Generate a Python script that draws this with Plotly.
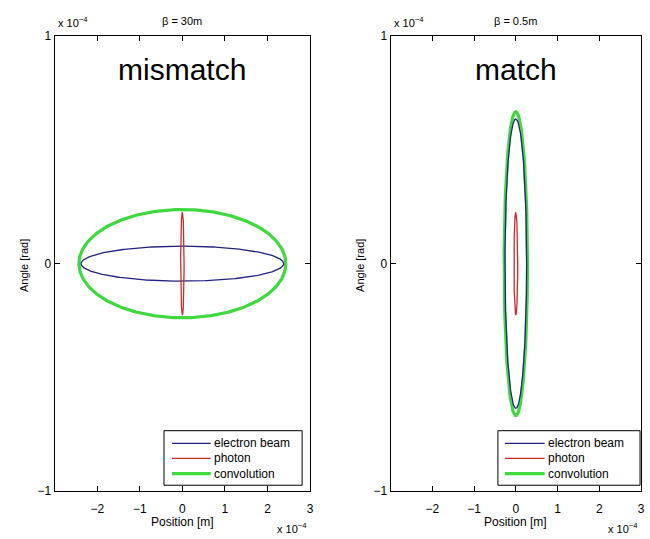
import numpy as np
import plotly.graph_objects as go

# Phase-space ellipse semi-axes (position [m], angle [rad]) for each beta setting
panel_titles = ["mismatch", "match"]
beta_labels = ["β = 30m", "β = 0.5m"]
electron_pos = [2.38e-4, 0.26e-4]
electron_ang = [0.077e-4, 0.636e-4]
photon_pos = [0.04e-4, 0.045e-4]
photon_ang = [0.226e-4, 0.225e-4]
conv_pos = [2.43e-4, 0.28e-4]
conv_ang = [0.238e-4, 0.668e-4]

x_ticks = [-2e-4, -1e-4, 0, 1e-4, 2e-4, 3e-4]
x_tick_text = ["\u22122", "\u22121", "0", "1", "2", "3"]
y_ticks = [-1e-4, 0, 1e-4]
y_tick_text = ["\u22121", "0", "1"]

FONT = "Liberation Sans, Arial, sans-serif"
W, H = 650, 539
domains_x = [(55 / W, 312 / W), (393 / W, 645 / W)]
domain_y = (1 - 497 / H, 1 - 30 / H)

t = np.linspace(0, 2 * np.pi, 361)


def ellipse(a, b):
    return a * np.cos(t), b * np.sin(t)


def px(xp):
    return xp / W


def py(yp):
    return 1 - yp / H


fig = go.Figure()

styles = [
    ("electron beam", "#23237e", 1.3),
    ("photon", "#cc2a2a", 1.3),
    ("convolution", "#3fd83f", 3.2),
]

for i in range(2):
    xa = "x" if i == 0 else "x2"
    ya = "y" if i == 0 else "y2"
    sets = [
        (electron_pos[i], electron_ang[i]),
        (photon_pos[i], photon_ang[i]),
        (conv_pos[i], conv_ang[i]),
    ]
    traces = []
    for (name, color, width), (a, b) in zip(styles, sets):
        ex, ey = ellipse(a, b)
        traces.append(go.Scatter(
            x=ex, y=ey, mode="lines", name=name,
            line=dict(color=color, width=width),
            xaxis=xa, yaxis=ya, showlegend=False, hoverinfo="skip",
        ))
    # convolution underneath, beam and photon drawn over it
    fig.add_trace(traces[2])
    fig.add_trace(traces[0])
    fig.add_trace(traces[1])

axis_common = dict(
    showgrid=False, zeroline=False, showline=True, linecolor="black",
    linewidth=1, mirror="ticks", ticks="inside", ticklen=5,
    tickcolor="black", tickfont=dict(family=FONT, size=12, color="black"),
)

fig.update_layout(
    width=W, height=H,
    margin=dict(l=0, r=0, t=0, b=0),
    paper_bgcolor="white", plot_bgcolor="white",
    font=dict(family=FONT, color="black"),
    xaxis=dict(domain=domains_x[0], range=[-3e-4, 3e-4], anchor="y",
               tickvals=x_ticks, ticktext=x_tick_text, ticklabelstandoff=7,
               **axis_common),
    yaxis=dict(domain=domain_y, range=[-1e-4, 1e-4], anchor="x",
               tickvals=y_ticks, ticktext=y_tick_text, **axis_common),
    xaxis2=dict(domain=domains_x[1], range=[-3e-4, 3e-4], anchor="y2",
                tickvals=x_ticks, ticktext=x_tick_text, ticklabelstandoff=7,
                **axis_common),
    yaxis2=dict(domain=domain_y, range=[-1e-4, 1e-4], anchor="x2",
                tickvals=y_ticks, ticktext=y_tick_text, **axis_common),
    showlegend=False,
)

annotations = []
shapes = []
centers = [(55 + 312) / 2, (393 + 645) / 2]
lefts = [55, 393]
rights = [312, 645]

# legend boxes: (left, right, top, bottom, line start, line end)
legend_boxes = [(165, 304, 435, 491, 173, 212), (501, 644, 435, 491, 508, 548)]
legend_rows = [448, 463.5, 479]

for i in range(2):
    cx = px(centers[i])
    annotations += [
        dict(text=panel_titles[i], x=cx, y=py(64), xref="paper", yref="paper",
             showarrow=False, font=dict(family=FONT, size=30, color="black"),
             xanchor="center", yanchor="middle"),
        dict(text=beta_labels[i], x=cx, y=py(14), xref="paper", yref="paper",
             showarrow=False, font=dict(family=FONT, size=11, color="black"),
             xanchor="center", yanchor="middle"),
        dict(text="x 10<sup>\u22124</sup>", x=px(lefts[i] + 1), y=py(15),
             xref="paper", yref="paper", showarrow=False,
             font=dict(family=FONT, size=11, color="black"),
             xanchor="left", yanchor="middle"),
        dict(text="x 10<sup>\u22124</sup>", x=px(rights[i] - 1), y=py(535),
             xref="paper", yref="paper", showarrow=False,
             font=dict(family=FONT, size=11, color="black"),
             xanchor="right", yanchor="middle"),
        dict(text="Position [m]", x=cx, y=py(529), xref="paper", yref="paper",
             showarrow=False, font=dict(family=FONT, size=12, color="black"),
             xanchor="center", yanchor="middle"),
        dict(text="Angle [rad]", x=px(lefts[i] - 31), y=py(265),
             xref="paper", yref="paper", showarrow=False, textangle=-90,
             font=dict(family=FONT, size=11, color="black"),
             xanchor="center", yanchor="middle"),
    ]

    l, r, tp, bt, l0, l1 = legend_boxes[i]
    shapes.append(dict(type="rect", xref="paper", yref="paper",
                       x0=px(l), x1=px(r), y0=py(bt), y1=py(tp),
                       line=dict(color="black", width=1), fillcolor="white",
                       layer="above"))
    for (name, color, width), yr in zip(styles, legend_rows):
        shapes.append(dict(type="line", xref="paper", yref="paper",
                           x0=px(l0), x1=px(l1), y0=py(yr), y1=py(yr),
                           line=dict(color=color, width=width), layer="above"))
        annotations.append(dict(text=name, x=px(l1 + 1), y=py(yr),
                                xref="paper", yref="paper", showarrow=False,
                                font=dict(family=FONT, size=12, color="black"),
                                xanchor="left", yanchor="middle"))

fig.update_layout(annotations=annotations, shapes=shapes)

fig.write_html("out.html")
